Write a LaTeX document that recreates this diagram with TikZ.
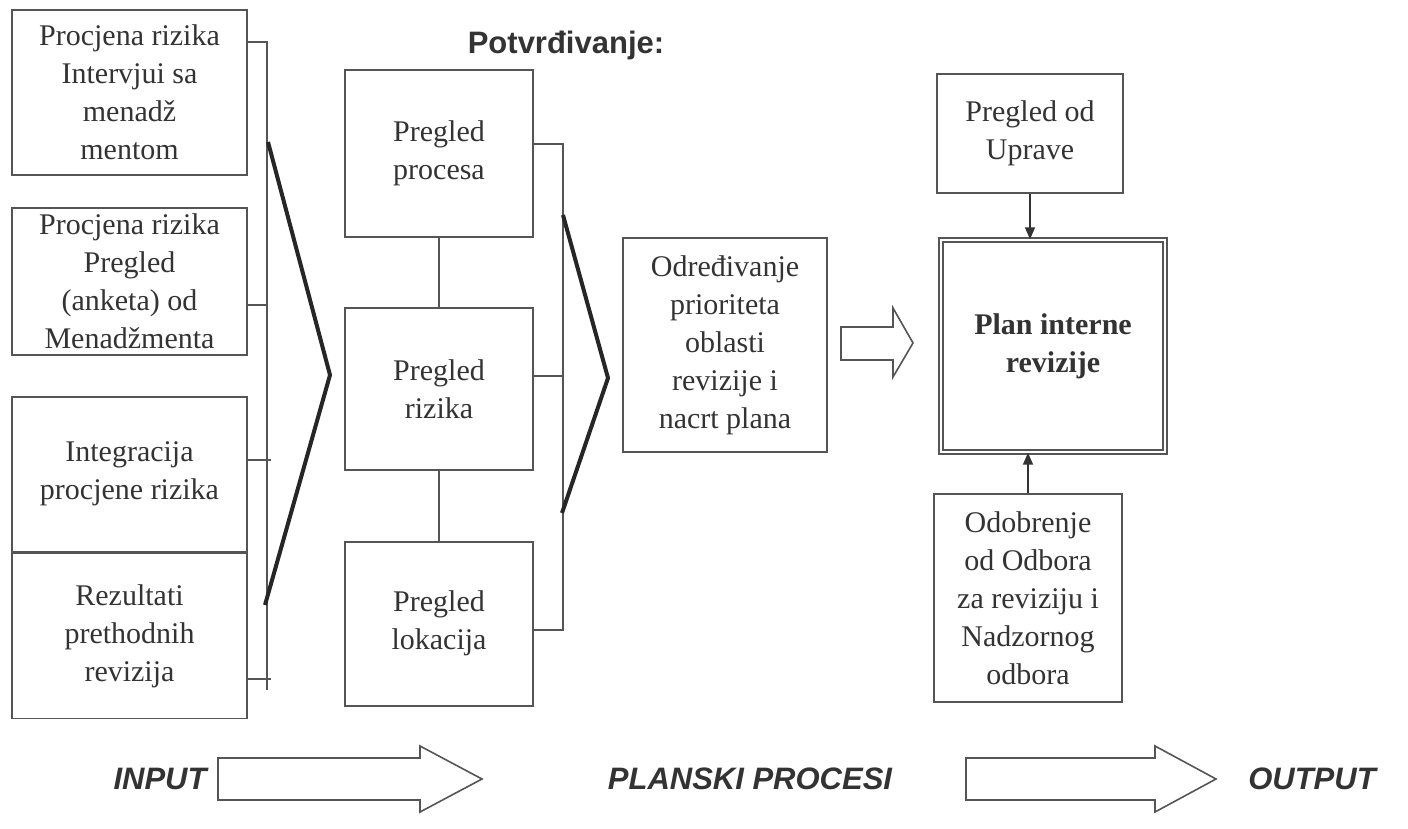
\documentclass[tikz,border=0pt]{standalone}
\usepackage{fontspec}
\setmainfont{Liberation Serif}
\setsansfont{Liberation Sans}
\usetikzlibrary{arrows.meta, positioning}

\definecolor{inkgray}{HTML}{333333}
\definecolor{linegray}{HTML}{555555}

\begin{document}
\begin{tikzpicture}[
    x=0.5pt, y=-0.5pt,
    every node/.style={align=center, font=\fontsize{15}{19}\selectfont, text=inkgray},
    box/.style={rectangle, draw=linegray, line width=0.9pt, inner sep=2pt},
    inbox/.style={box, minimum width=117.5pt},
    midbox/.style={box, minimum width=94pt},
    planbox/.style={rectangle, draw=linegray, double, double distance=1.4pt, line width=0.7pt, font=\fontsize{15}{19}\selectfont\bfseries},
    link/.style={draw=linegray, line width=0.8pt},
    chevron/.style={draw=black!85, line width=2pt},
    arrow/.style={-{Triangle[length=6pt, width=5pt]}, draw=inkgray, line width=0.8pt},
    hollow/.style={draw=linegray, line width=0.8pt, fill=white},
    caption/.style={font=\fontsize{15.5}{18}\selectfont\sffamily\bfseries\itshape}
]
\useasboundingbox (0,0) rectangle (1408,829);

% inputs
\node[inbox, minimum height=82.5pt] (L1) at (129.5,92.5) {Procjena rizika\\ Intervjui sa\\ menadž\\ mentom};
\node[inbox, minimum height=73.5pt, below=15.5pt of L1] (L2) {Procjena rizika\\ Pregled\\ (anketa) od\\ Menadžmenta};
\node[inbox, minimum height=77.5pt, below=20pt of L2] (L3) {Integracija\\ procjene rizika};
\node[inbox, minimum height=82.5pt, below=0pt of L3] (L4) {Rezultati\\ prethodnih\\ revizija};

\coordinate (inTop) at (267,42);
\coordinate (inBot) at (267,690);
\draw[link] (L1.east |- inTop) -- (inTop) -- (inBot);
\draw[link] (L2.east |- 0,305) -- ++(20,0);
\draw[link] (L3.east |- 0,460) -- ++(23,0);
\draw[link] (L4.east |- 0,679) -- ++(23,0);
\draw[chevron] (268,142) -- (330,375) -- (265,605);

% confirmation
\node[font=\fontsize{15.5}{18}\selectfont\sffamily\bfseries] (conf) at (566,45) {Potvrđivanje:};
\node[midbox, minimum height=83.5pt] (M1) at (439,153.5) {Pregled\\ procesa};
\node[midbox, minimum height=81pt, below=34.5pt of M1] (M2) {Pregled\\ rizika};
\node[midbox, minimum height=82pt, below=35pt of M2] (M3) {Pregled\\ lokacija};
\draw[link] (M1) -- (M2);
\draw[link] (M2) -- (M3);

\coordinate (midTop) at (563,144);
\coordinate (midBot) at (563,630);
\draw[link] (M1.east |- midTop) -- (midTop) -- (midBot) -- (M3.east |- midBot);
\draw[link] (M2.east |- 0,376) -- ++(30,0);
\draw[chevron] (563,215) -- (608,378) -- (562,513);

% priorities and plan
\node[box, minimum width=102pt, minimum height=107pt] (C) at (725,345) {Određivanje\\ prioriteta\\ oblasti\\ revizije i\\ nacrt plana};
\draw[hollow] (841,327) -- (893,327) -- (893,308) -- (913,343) -- (893,377) -- (893,360) -- (841,360) -- cycle;

\node[planbox, minimum width=112pt, minimum height=106pt] (P) at (1053,346) {Plan interne\\ revizije};
\node[box, minimum width=93pt, minimum height=59.5pt] (U) at (1030,133.5) {Pregled od\\ Uprave};
\node[box, minimum width=94pt, minimum height=104pt] (O) at (1028,598) {Odobrenje\\ od Odbora\\ za reviziju i\\ Nadzornog\\ odbora};
\draw[arrow] (U) -- (U |- P.north);
\draw[arrow] (O) -- (O |- P.south);

% bottom row
\node[caption] (in) at (160,779) {INPUT};
\node[caption] (plan) at (750,779) {PLANSKI PROCESI};
\node[caption] (out) at (1312,779) {OUTPUT};
\draw[hollow] (218,758) -- (420,758) -- (420,746) -- (482,779) -- (420,812) -- (420,800) -- (218,800) -- cycle;
\draw[hollow] (966,758) -- (1155,758) -- (1155,746) -- (1216,779) -- (1155,812) -- (1155,800) -- (966,800) -- cycle;
\end{tikzpicture}
\end{document}
